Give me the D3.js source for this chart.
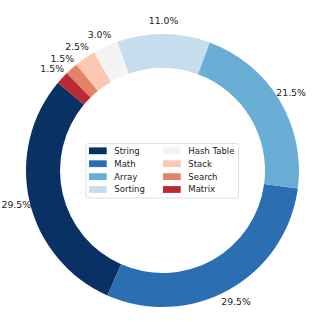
<!DOCTYPE html>
<html>
<head>
<meta charset="utf-8">
<script src="https://cdn.jsdelivr.net/npm/d3@7"></script>
<style>
  body { margin: 0; background: #fff; }
  text { font-family: "DejaVu Sans", sans-serif; fill: #222; }
</style>
</head>
<body>
<div id="chart"></div>
<script>
// topics and their share (%)
var categories = ["String", "Math", "Array", "Sorting", "Hash Table", "Stack", "Search", "Matrix"];
var shares = [29.5, 29.5, 21.5, 11.0, 3.0, 2.5, 1.5, 1.5];
var colors = ["#0a3163", "#2b6eb2", "#6aaed6", "#c6ddee", "#f4f4f4", "#fbc8b1", "#e6816a", "#bb2a33"];

var width = 329, height = 322;
var cx = 162.5, cy = 170.5, outerR = 136.5, innerR = 102.5;

var svg = d3.select("#chart").append("svg")
    .attr("width", width)
    .attr("height", height);

var g = svg.append("g")
    .attr("transform", "translate(" + cx + "," + cy + ")");

// matplotlib style: start at 140deg, counter-clockwise
// d3 angles are clockwise from 12 o'clock, so convert
var startDeg = 140;
var toD3 = function(deg) { return (90 - deg) * Math.PI / 180; };

var pie = d3.pie()
    .sort(null)
    .value(function(d) { return d; })
    .startAngle(toD3(startDeg))
    .endAngle(toD3(startDeg + 360));

var arcs = pie(shares);

var arc = d3.arc()
    .innerRadius(innerR)
    .outerRadius(outerR);

g.selectAll(".slice")
    .data(arcs)
    .enter()
    .append("path")
    .attr("class", "slice")
    .attr("d", arc)
    .style("fill", function(d, i) { return colors[i]; });

// percent labels at 1.1 * radius
var labelArc = d3.arc()
    .innerRadius(outerR * 1.1)
    .outerRadius(outerR * 1.1);

g.selectAll(".pct")
    .data(arcs)
    .enter()
    .append("text")
    .attr("class", "pct")
    .attr("transform", function(d) {
        var c = labelArc.centroid(d);
        return "translate(" + c[0] + "," + c[1] + ")";
    })
    .attr("text-anchor", "middle")
    .attr("dy", "0.36em")
    .style("font-size", "9.3px")
    .text(function(d) { return d.data.toFixed(1) + "%"; });

// legend, two columns in the hole
var legend = svg.append("g")
    .attr("transform", "translate(86,143.5)");

legend.append("rect")
    .attr("width", 152.5)
    .attr("height", 54.5)
    .attr("rx", 2)
    .style("fill", "#fff")
    .style("fill-opacity", 0.8)
    .style("stroke", "#d6d6d6")
    .style("stroke-width", 0.8);

var rows = 4;
var item = legend.selectAll(".item")
    .data(categories)
    .enter()
    .append("g")
    .attr("class", "item")
    .attr("transform", function(d, i) {
        var col = Math.floor(i / rows), row = i % rows;
        return "translate(" + (3 + col * 74) + "," + (7.3 + row * 12.9) + ")";
    });

item.append("rect")
    .attr("y", -3.4)
    .attr("width", 17.7)
    .attr("height", 6.8)
    .style("fill", function(d, i) { return colors[i]; });

item.append("text")
    .attr("x", 25.3)
    .attr("dy", "0.35em")
    .style("font-size", "8.5px")
    .text(function(d) { return d; });
</script>
</body>
</html>
